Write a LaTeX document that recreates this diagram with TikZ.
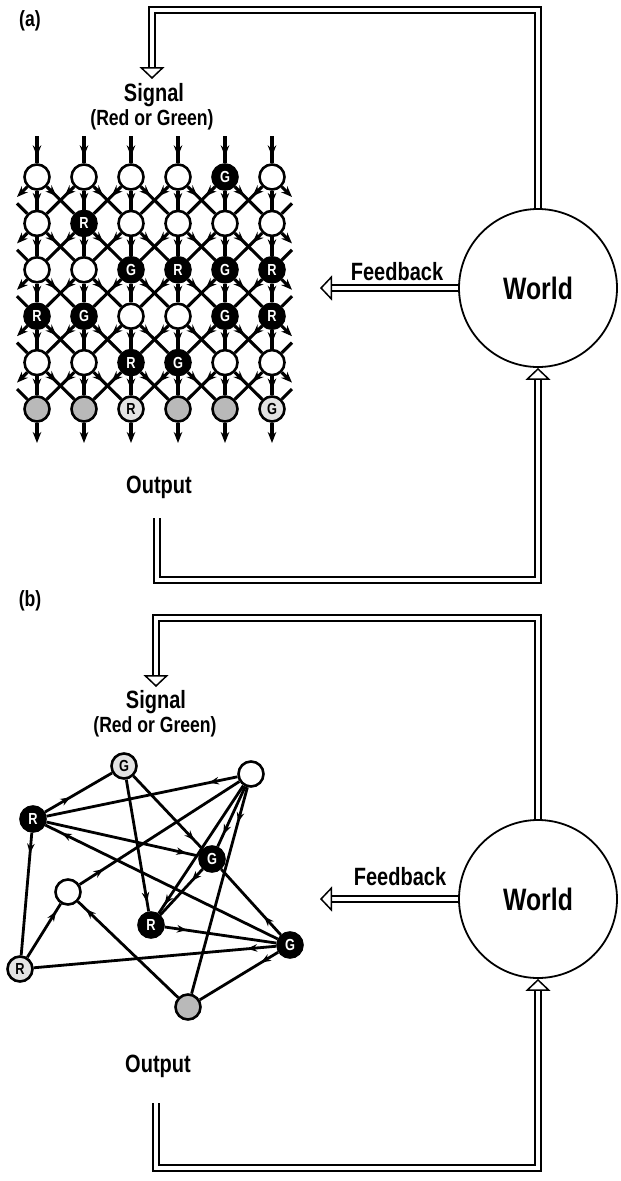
\documentclass[tikz,border=0pt]{standalone}
\usepackage{fontspec}
\setmainfont{Liberation Sans}[FakeStretch=0.8]
\usetikzlibrary{arrows.meta,decorations.markings}
\tikzset{
  >={Stealth[length=11pt,width=8.5pt]},
  v/.style={circle,draw,line width=2.6pt,minimum size=25pt,inner sep=0pt,font=\bfseries\fontsize{16}{16}\selectfont},
  w/.style={v,fill=white},
  k/.style={v,fill=black,text=white},
  s/.style={v,fill=gray!55},
  l/.style={v,fill=gray!22},
  e/.style={line width=3.1pt},
  ah/.style={postaction={decorate},decoration={markings,mark=at position #1 with {\arrow{>}}}},
  lbl/.style={font=\bfseries\fontsize{25}{25}\selectfont},
  sub/.style={font=\bfseries\fontsize{22}{22}\selectfont},
  wd/.style={circle,draw,line width=1.8pt,minimum size=158pt,inner sep=0pt,font=\bfseries\fontsize{31}{31}\selectfont},
  dbl/.style={double,double distance=4.5pt,line width=1.5pt},
  dtip/.style={-{Triangle[open,length=12pt,width=25pt,line width=1.5pt]}},
}
\begin{document}
\begin{tikzpicture}[x=1pt,y=-1pt]
\useasboundingbox (0,0) rectangle (621,1181);
% (a) layered net
\node[sub] (tagA) at (30,21) {(a)};
\node[lbl] (sigA) at (154,95) {Signal}; \node[sub] (redA) at (152,120) {(Red or Green)};
\coordinate (inA) at (152,79); \coordinate (cnA) at (152,10);
\node[wd] (worldA) at (538,288) {World};
\node[lbl] (fbtA) at (397,272) {Feedback}; \coordinate (fbA) at (320,288);
\node[lbl] (outA) at (159,487) {Output};
\coordinate (o1A) at (157,518); \coordinate (o2A) at (157,580);
\draw[dbl,dtip] (worldA) |- (cnA) -- (inA);
\draw[dbl,dtip] (worldA) -- (fbA);
\draw[dbl,dtip] (o1A) -- (o2A) -| (worldA);
\foreach \s/\t [count=\c from 0] in {w/{},w/{},w/{},w/{},k/G,w/{}} \node[\s] (a0\c) at ({37+47*\c},177) {\t};
\foreach \s/\t [count=\c from 0] in {w/{},k/R,w/{},w/{},w/{},w/{}} \node[\s] (a1\c) at ({37+47*\c},223.4) {\t};
\foreach \s/\t [count=\c from 0] in {w/{},w/{},k/G,k/R,k/G,k/R} \node[\s] (a2\c) at ({37+47*\c},269.8) {\t};
\foreach \s/\t [count=\c from 0] in {k/R,k/G,w/{},w/{},k/G,k/R} \node[\s] (a3\c) at ({37+47*\c},316.2) {\t};
\foreach \s/\t [count=\c from 0] in {w/{},w/{},k/R,k/G,w/{},w/{}} \node[\s] (a4\c) at ({37+47*\c},362.6) {\t};
\foreach \s/\t [count=\c from 0] in {s/{},s/{},l/R,s/{},s/{},l/G} \node[\s] (a5\c) at ({37+47*\c},409) {\t};
\foreach \c in {0,...,5} {
  \coordinate (aT\c) at ({37+47*\c},136); \coordinate (aB\c) at ({37+47*\c},443);
  \draw[e,ah=0.75] (aT\c) -- (a0\c); \draw[e,->] (a5\c) -- (aB\c);
}
\foreach \r [evaluate=\r as \n using int(\r+1)] in {0,...,4} {
  \coordinate (aL\r) at (17,{177+46.4*\r+20}); \coordinate (aR\r) at (292,{177+46.4*\r+20});
  \coordinate (aLi\n) at (17,{177+46.4*\n-20}); \coordinate (aRi\n) at (292,{177+46.4*\n-20});
  \draw[e,->] (a\r0) -- (aL\r); \draw[e,->] (a\r5) -- (aR\r);
  \draw[e] (aLi\n) -- (a\n0); \draw[e] (aRi\n) -- (a\n5);
  \foreach \c [evaluate=\c as \p using int(\c-1), evaluate=\c as \q using int(\c+1)] in {0,...,5} {
    \draw[e,ah=0.7] (a\r\c) -- (a\n\c);
    \ifnum\c>0 \draw[e,ah=0.35] (a\r\c) -- (a\n\p); \fi
    \ifnum\c<5 \draw[e,ah=0.35] (a\r\c) -- (a\n\q); \fi
  }
}
% (b) random net
\node[sub] (tagB) at (30,601) {(b)};
\node[lbl] (sigB) at (156,702) {Signal}; \node[sub] (redB) at (155,727) {(Red or Green)};
\coordinate (inB) at (156,687); \coordinate (cnB) at (156,618);
\node[wd] (worldB) at (538,899) {World};
\node[lbl] (fbtB) at (400,877) {Feedback}; \coordinate (fbB) at (320,899);
\node[lbl] (outB) at (158,1066) {Output};
\coordinate (o1B) at (156,1103); \coordinate (o2B) at (156,1168);
\draw[dbl,dtip] (worldB) |- (cnB) -- (inB);
\draw[dbl,dtip] (worldB) -- (fbB);
\draw[dbl,dtip] (o1B) -- (o2B) -| (worldB);
\node[l] (gtop) at (124,766) {G}; \node[w] (wtop) at (251,774) {};
\node[k] (rleft) at (33,819) {R}; \node[k] (gmid) at (212,859) {G};
\node[w] (wleft) at (68,892) {}; \node[k] (rmid) at (151,925) {R};
\node[l] (rlow) at (20,969) {R}; \node[k] (gright) at (290,945) {G};
\node[s] (sbot) at (188,1007) {};
\begin{scope}[>={Stealth[length=10pt,width=7.5pt]},e/.style={line width=2.8pt}]
\draw[e,ah=0.38] (rleft) -- (gtop); \draw[e,ah=0.15] (wtop) -- (rleft);
\draw[e,ah=0.92] (rleft) -- (gmid); \draw[e,ah=0.93] (gright) -- (rleft);
\draw[e,ah=0.17] (rleft) -- (rlow); \draw[e,ah=0.93] (gtop) -- (rmid);
\draw[e,ah=0.88] (gtop) -- (gmid); \draw[e,ah=0.15] (wleft) -- (wtop);
\draw[e,ah=0.93] (wtop) -- (rmid); \draw[e,ah=0.8] (wtop) -- (gmid);
\draw[e,ah=0.17] (wtop) -- (sbot); \draw[e,ah=0.26] (gmid) -- (rmid);
\draw[e,ah=0.86] (rlow) -- (wleft); \draw[e,ah=0.92] (sbot) -- (wleft);
\draw[e,ah=0.12] (gright) -- (rlow); \draw[e,ah=0.2] (rmid) -- (gright);
\draw[e,ah=0.28] (gright) -- (gmid); \draw[e,ah=0.22] (gright) -- (sbot);
\end{scope}
\end{tikzpicture}
\end{document}
